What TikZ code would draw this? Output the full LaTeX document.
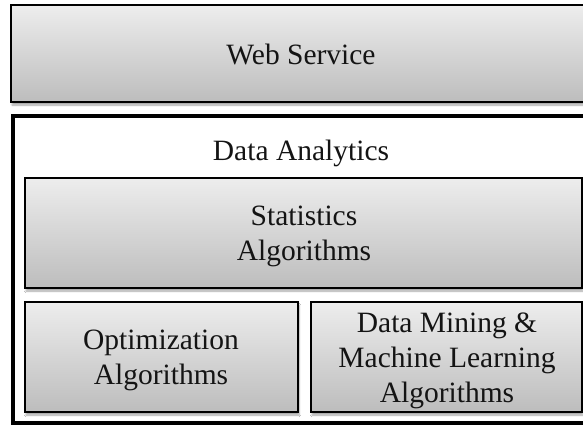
\documentclass[tikz,border=0pt]{standalone}
\usepackage{fontspec}
\setmainfont{Liberation Serif}
\usetikzlibrary{shadows.blur}
\begin{document}
\begin{tikzpicture}[x=1pt,y=-1pt,
  layerbox/.style={draw=black, line width=2pt, top color=black!7, bottom color=black!26,
    blur shadow={shadow xshift=1pt, shadow yshift=-3pt, shadow blur steps=6, shadow opacity=35}},
  frame/.style={draw=black, line width=3.5pt, fill=white},
  lbl/.style={font=\fontsize{29.5}{35}\selectfont, align=center, inner sep=0pt, text=black!92}]
\useasboundingbox (0,0) rectangle (583,426);
% top layer
\path[layerbox] (11,5) rectangle (600,102);
\node[lbl] (web) at (301,54) {Web Service};
% analytics frame
\path[frame] (13,116) rectangle (600,423);
\node[lbl] (da) at (301,153) {Data Analytics};
% inner layers
\path[layerbox] (25,178) rectangle (582,288);
\node[lbl] (stat) at (304,236) {Statistics\\Algorithms};
\path[layerbox] (25,302) rectangle (298,412);
\node[lbl] (opt) at (161,360) {Optimization\\Algorithms};
\path[layerbox] (311,302) rectangle (582,412);
\node[lbl] (dm) at (447,361) {Data Mining \&\\Machine Learning\\Algorithms};
\end{tikzpicture}
\end{document}
